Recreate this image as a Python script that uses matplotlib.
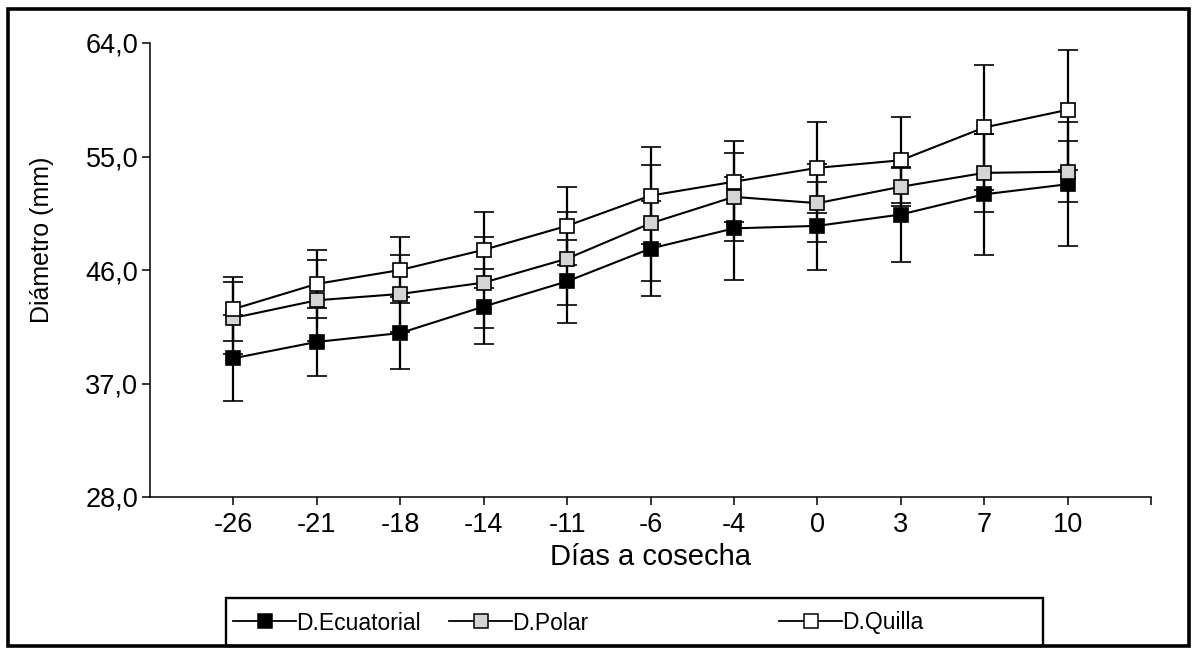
import matplotlib
matplotlib.use("Agg")
import matplotlib.pyplot as plt
from matplotlib.patches import Rectangle
from matplotlib.lines import Line2D

plt.rcParams['font.family'] = ['Liberation Sans', 'DejaVu Sans']

dias = ['-26', '-21', '-18', '-14', '-11', '-6', '-4', '0', '3', '7', '10']

ecuatorial = [39.0, 40.3, 41.0, 43.1, 45.1, 47.7, 49.3, 49.5, 50.4, 52.0, 52.8]
ecuatorial_sd = [3.4, 2.7, 2.85, 3.0, 3.3, 3.8, 4.1, 3.5, 3.8, 4.8, 4.9]

polar = [42.2, 43.6, 44.1, 45.0, 46.9, 49.7, 51.8, 51.3, 52.6, 53.7, 53.8]
polar_sd = [2.85, 3.2, 3.05, 3.6, 3.7, 4.6, 3.5, 3.1, 1.5, 3.1, 2.4]

quilla = [42.9, 44.9, 46.0, 47.6, 49.5, 51.9, 53.0, 54.1, 54.7, 57.3, 58.7]
quilla_sd = [2.55, 2.67, 2.6, 3.0, 3.1, 3.85, 3.2, 3.6, 3.4, 4.95, 4.75]

series = [
    ('D.Ecuatorial', ecuatorial, ecuatorial_sd, 'black'),
    ('D.Polar', polar, polar_sd, '#d4d4d4'),
    ('D.Quilla', quilla, quilla_sd, 'white'),
]

W, H = 1192, 648
fig = plt.figure(figsize=(W / 100, H / 100), dpi=100)
ax = fig.add_axes([150 / W, 1 - 497 / H, 1001 / W, 454 / H])

x = list(range(len(dias)))
for name, vals, sd, fc in series:
    ax.errorbar(x, vals, yerr=sd, fmt='-s', color='black', lw=1.5,
                elinewidth=1.6, capsize=7, capthick=1.6,
                mfc=fc, mec='black', mew=1.2, ms=10, label=name)

ax.set_xlim(-1, 11)
ax.set_ylim(28, 64)
ax.set_yticks([28, 37, 46, 55, 64])
ax.set_yticklabels(['28,0', '37,0', '46,0', '55,0', '64,0'])
ax.set_xticks(list(range(len(dias) + 1)))
ax.set_xticklabels(dias + [''])
for s in ['top', 'right']:
    ax.spines[s].set_visible(False)
for s in ['left', 'bottom']:
    ax.spines[s].set_linewidth(1.1)
ax.tick_params(axis='both', direction='out', length=5.5, width=1.1,
               labelsize=19.5, colors='black')
ax.tick_params(axis='x', pad=5)
ax.tick_params(axis='y', pad=3)
ax.set_xlabel('Días a cosecha', fontsize=21, labelpad=4)
ax.set_ylabel('Diámetro (mm)', fontsize=18)
ax.yaxis.set_label_coords(-0.096, 0.566)

# figure border
fig.add_artist(Rectangle((8 / W, 2 / H), 1181 / W, 637 / H,
                         transform=fig.transFigure, fill=False,
                         lw=2.6, ec='black'))
# legend frame
fig.add_artist(Rectangle((226 / W, 2 / H), 817 / W, 48 / H,
                         transform=fig.transFigure, fill=False,
                         lw=1.7, ec='black'))

leg_x = [233, 449, 779]
for (name, vals, sd, fc), lx in zip(series, leg_x):
    h = Line2D([], [], color='black', lw=1.3, marker='s', ms=10,
               mfc=fc, mec='black', mew=1.1)
    leg = fig.legend([h], [name], loc='center left',
                     bbox_to_anchor=(lx / W, 1 - 623 / H),
                     frameon=False, fontsize=16.5, handlelength=2.75,
                     handletextpad=0.0, borderpad=0, borderaxespad=0)

fig.savefig('out.png', dpi=100)
